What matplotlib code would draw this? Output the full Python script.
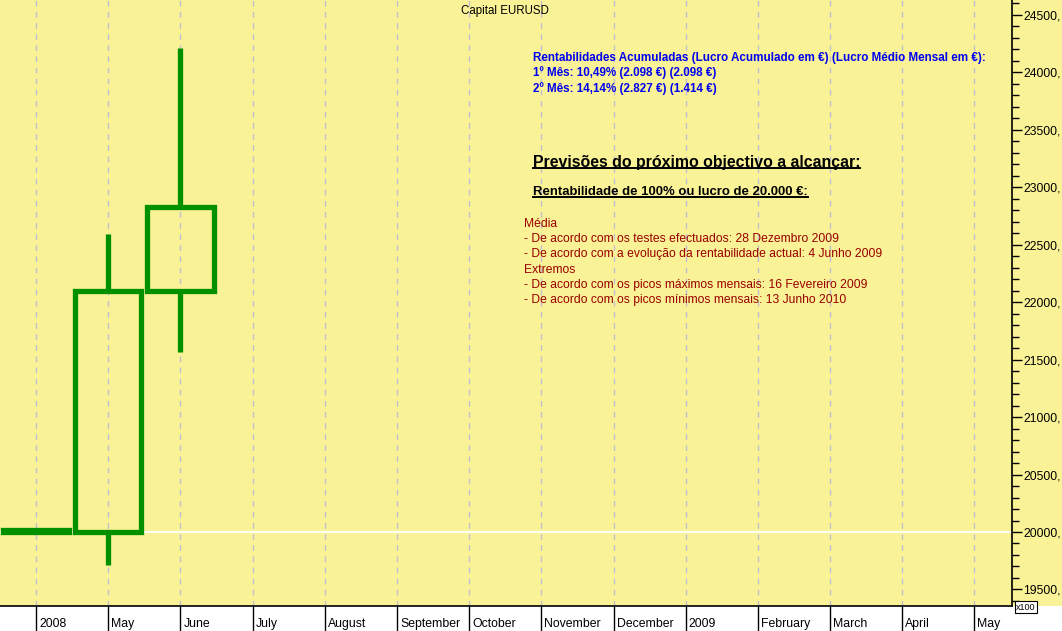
import matplotlib
matplotlib.use("Agg")
import matplotlib.pyplot as plt
from matplotlib.patches import Rectangle
from matplotlib.ticker import MultipleLocator, FuncFormatter
import matplotlib.transforms as mtransforms

plt.rcParams['font.family'] = ['Liberation Sans', 'DejaVu Sans']

# data
months = ["2008", "May", "June", "July", "August", "September", "October",
          "November", "December", "2009", "February", "March", "April", "May"]
opens = [20000, 20000, 22098]
closes = [20020, 22098, 22827]
highs = [20020, 22594, 24212]
lows = [20000, 19713, 21567]
base_capital = 20000

blue_lines = ["Rentabilidades Acumuladas (Lucro Acumulado em €) (Lucro Médio Mensal em €):",
              "1º Mês: 10,49% (2.098 €) (2.098 €)",
              "2º Mês: 14,14% (2.827 €) (1.414 €)"]
red_lines = ["Média",
             "- De acordo com os testes efectuados: 28 Dezembro 2009",
             "- De acordo com a evolução da rentabilidade actual: 4 Junho 2009",
             "Extremos",
             "- De acordo com os picos máximos mensais: 16 Fevereiro 2009",
             "- De acordo com os picos mínimos mensais: 13 Junho 2010"]

yellow = '#FAF296'
green = '#009000'

fig = plt.figure(figsize=(10.62, 6.31), dpi=100, facecolor=yellow)
fig.patches.append(Rectangle((0, 0), 1, 25 / 631, transform=fig.transFigure,
                             facecolor='white', edgecolor='none', zorder=-5))
ax = fig.add_axes([0, 25 / 631, 1012 / 1062, 606 / 631])
ax.set_facecolor(yellow)

# candles
w = 0.92
for i in range(len(opens)):
    lo_b = min(opens[i], closes[i])
    hi_b = max(opens[i], closes[i])
    ax.plot([i, i], [hi_b, highs[i]], color=green, lw=3.8, solid_capstyle='butt', zorder=3)
    ax.plot([i, i], [lows[i], lo_b], color=green, lw=3.8, solid_capstyle='butt', zorder=3)
    ax.add_patch(Rectangle((i - w / 2, lo_b), w, hi_b - lo_b, facecolor='none',
                           edgecolor=green, lw=3.8, joinstyle='miter', zorder=3))

ax.axhline(base_capital, color='white', lw=1.3, zorder=2)

ax.set_xlim(-0.5, 13.52)
ax.set_ylim(19356, 24630)

# vertical dashed grid
ax.set_xticks(range(len(months)))
ax.xaxis.grid(True, color='#BFBFCF', linestyle=(0, (4, 4)), lw=1)
ax.set_axisbelow(True)
ax.tick_params(axis='x', direction='out', length=18, width=1, labelbottom=False)

offs = mtransforms.offset_copy(ax.get_xaxis_transform(), fig=fig, x=3, y=-18, units='dots')
for i, m in enumerate(months):
    ax.text(i, 0, m, transform=offs, ha='left', va='center', fontsize=8.8, color='black')

# right axis
ax.yaxis.tick_right()
ax.yaxis.set_major_locator(MultipleLocator(500))
ax.yaxis.set_minor_locator(MultipleLocator(100))
ax.yaxis.set_major_formatter(FuncFormatter(lambda v, p: f"{int(v)},"))
ax.tick_params(axis='y', which='major', direction='out', length=7, width=1, pad=1, labelsize=8.8)
ax.tick_params(axis='y', which='minor', direction='out', length=5, width=1)
for lab in ax.get_yticklabels():
    lab.set_horizontalalignment('left')

for s in ['left', 'top']:
    ax.spines[s].set_visible(False)
ax.spines['right'].set_linewidth(1.2)
ax.spines['bottom'].set_linewidth(1.2)

fig.text(1016 / 1062, 1 - 607 / 631, "x100", fontsize=6.5, ha='left', va='center',
         bbox=dict(boxstyle='square,pad=0.15', facecolor='white', edgecolor='black', lw=0.8))

# texts
ax.text(505 / 1012, 1 - 11 / 606, "Capital EURUSD", transform=ax.transAxes,
        ha='center', va='center', fontsize=8.3)

for k, t in enumerate(blue_lines):
    ax.text(533 / 1012, 1 - (57.5 + 15.5 * k) / 606, t, transform=ax.transAxes,
            ha='left', va='center', fontsize=8.4, fontweight='bold', color='#0000F0')

h1 = ax.text(533 / 1012, 1 - 163 / 606, "Previsões do próximo objectivo a alcançar:",
             transform=ax.transAxes, ha='left', va='center', fontsize=11.4, fontweight='bold')
h2 = ax.text(533 / 1012, 1 - 192 / 606, "Rentabilidade de 100% ou lucro de 20.000 €:",
             transform=ax.transAxes, ha='left', va='center', fontsize=9.45, fontweight='bold')

for k, t in enumerate(red_lines):
    ax.text(524 / 1012, 1 - (224 + 15.2 * k) / 606, t, transform=ax.transAxes,
            ha='left', va='center', fontsize=8.7, color='#9A0000')

# underline headings
fig.canvas.draw()
r = fig.canvas.get_renderer()
inv = ax.transAxes.inverted()
for t, gap in [(h1, 2), (h2, 1)]:
    bb = t.get_window_extent(renderer=r)
    (x0, y0), (x1, _) = inv.transform([(bb.x0, bb.y0 + gap), (bb.x1, bb.y0)])
    ax.plot([x0, x1], [y0, y0], transform=ax.transAxes, color='black', lw=1.4, clip_on=False)

fig.savefig("out.png", dpi=100, facecolor=yellow)
